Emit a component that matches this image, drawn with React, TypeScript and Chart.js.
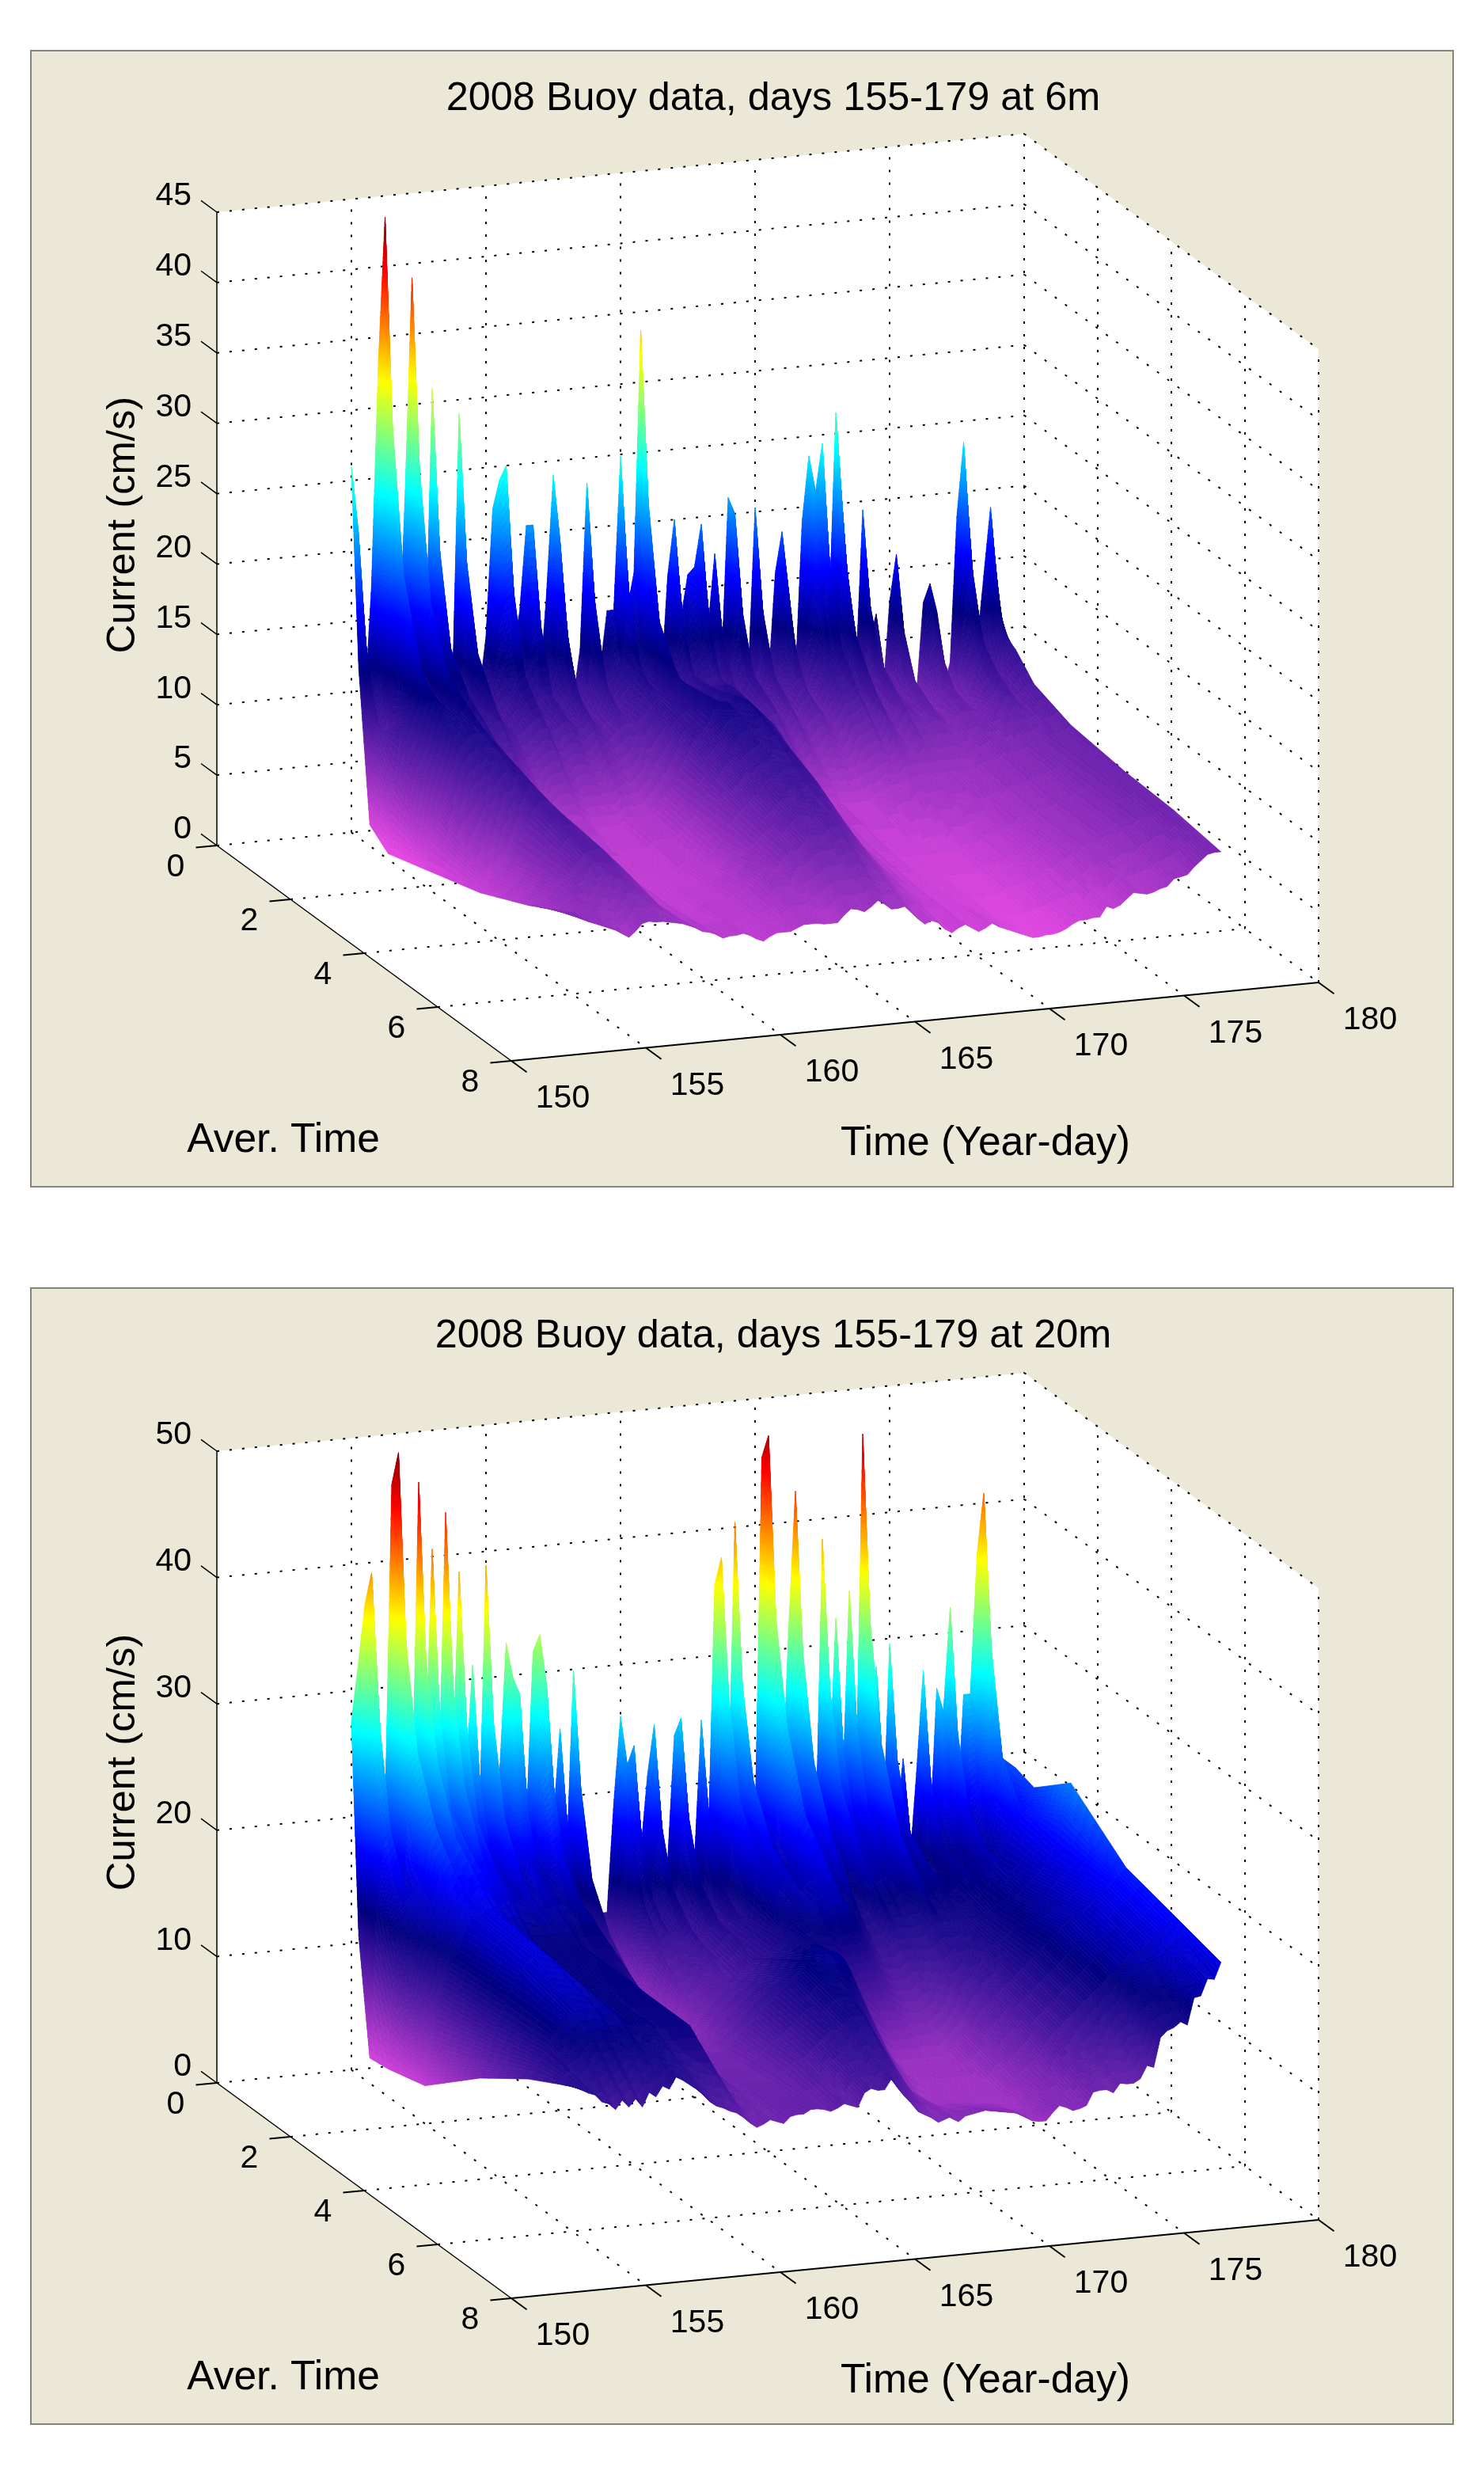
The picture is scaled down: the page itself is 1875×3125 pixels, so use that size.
import { useEffect, useRef } from 'react';
import { Chart, registerables } from 'chart.js';

Chart.register(...registerables);

const days = [
  155, 155.25, 155.5, 155.75, 156, 156.25, 156.5, 156.75, 157, 157.25, 157.5, 157.75,
  158, 158.25, 158.5, 158.75, 159, 159.25, 159.5, 159.75, 160, 160.25, 160.5, 160.75,
  161, 161.25, 161.5, 161.75, 162, 162.25, 162.5, 162.75, 163, 163.25, 163.5, 163.75,
  164, 164.25, 164.5, 164.75, 165, 165.25, 165.5, 165.75, 166, 166.25, 166.5, 166.75,
  167, 167.25, 167.5, 167.75, 168, 168.25, 168.5, 168.75, 169, 169.25, 169.5, 169.75,
  170, 170.25, 170.5, 170.75, 171, 171.25, 171.5, 171.75, 172, 172.25, 172.5, 172.75,
  173, 173.25, 173.5, 173.75, 174, 174.25, 174.5, 174.75, 175, 175.25, 175.5, 175.75,
  176, 176.25, 176.5, 176.75, 177, 177.25, 177.5, 177.75, 178, 178.25, 178.5, 178.75, 179,
];
const averTimes = [0, 0.2, 0.5, 1, 2, 3.5, 4.8, 6.08];

// 6 m, one list per averaging time, four values per day
const m6A0 = [
  26,21.5,9,17.5, 33,43.5,18,11, 24,39,17,11, 31,14,9,9, 29,14,8,9, 13,22,24,25,
  12,14.5,20.6,20.6, 9,15.6,24,19.3, 10,8,11.5,23.2, 12,10,14,14, 24.9,14,16.5,33.7, 16,9,8,16,
  20,13,16,16.5, 19.5,12,17.3,9, 21.2,20,10,8.5, 20.3,10,8,15.5, 18.4,14,8,19, 23.6,21,24.4,12,
  26.5,19.3,12,8, 19.4,10,11.9,6, 12.7,16,8,6.5, 6,12.4,13.7,11.7, 6,8,18.3,23.5, 15.2,9,13.9,18.7, 12,
];
const m6A02 = [
  12,14,8.5,11.5, 21,29,12.5,10, 15,26,12,10, 20,11,9,9, 19,10.5,8.5,9, 10,14.5,16,16.5,
  9.5,10.5,14,14, 9,11,16,13, 9,8,9,15.5, 9.5,9,10,10.5, 16,11,12,22, 11.5,8.5,8,11,
  13.5,10,11,11.5, 13,9.5,12,8.5, 14,13.5,8.5,8, 13.5,8.5,7.5,11, 12.5,10,8,13, 15.5,14,16,9.5,
  18,13,9,7, 13,8,8.5,6, 9,11,6.5,6, 6,9,9.5,8.5, 6,7,12.5,15.5, 10.5,7.5,10,12.5, 10,
];
const m6A05 = [
  1.5,8,8,8, 11.5,19,11,9.5, 10.5,17,10.5,9.5, 13.5,10,9,9, 13,9.5,8.5,8.5, 8.5,9.5,10.5,11,
  8.5,8.5,9.5,9.5, 8,8.5,10.5,9, 8,7.5,8,10, 8.5,8,8.5,9, 11,9.5,10,14, 9.5,8,7.5,8.5,
  10,8.5,9,9, 9.5,8.5,9,8, 10,9.5,8,7.5, 9.5,8,7,8.5, 9,8,7,9, 10.5,10,11,8.5,
  12,9.5,8,6.5, 9.5,7.5,7.5,6, 7.5,8,6,5.5, 5.5,7,7.5,7, 5.5,6.5,8.5,10.5, 8.5,7,8,9, 9.5,
];
const m6A1 = [
  0.4,6,9,10, 11.5,13,12,11, 11,12.5,11,10, 11,10,9.5,9.5, 10,9,8.5,8, 8,8.5,9,9,
  8,8,8.5,8.5, 8,8,8.5,8, 7.5,7,7.5,8, 8,8,8.5,9, 9.5,9.5,10,11, 10.5,9,8.5,9.5,
  10,9.5,10,10, 9.5,9,8.5,8, 8.5,8.5,7.5,7, 8,7,6.5,7, 7.5,7,6.5,7, 8,8,8.5,7.5,
  9,8,7,6.5, 8,7,7,6.5, 7,7,6.5,6, 6,6.5,6.5,6.5, 6.5,7,7.5,8.5, 8,7,7.5,8, 8,
];
const m6A2 = [
  1.2,3,5,6.5, 8,9.5,10,10.5, 10.5,10.5,10,9, 8.5,7.5,6.5,5.5, 5,4.5,4,3.5, 3.5,4,4,4,
  3.5,3,3,3, 3,3,3.5,3.5, 3.5,3.5,4,4.5, 5,5.5,6.5,7.5, 8.5,9,9.5,10.5, 11,11,10.5,10.5,
  11,10.5,10,9.5, 9,8,7,6, 5,4.5,4,3.5, 3.5,3.5,3,3, 3,3,3,3.5, 3.5,4,4,4,
  4.5,4.5,4.5,4.5, 4.5,4.5,4.5,4.5, 4.5,4.5,4.5,5, 5,5,5.5,5.5, 5.5,5.5,6,6, 6,6.5,6.5,6.5, 7,
];
const m6A35 = [
  2.4,2.5,3,3.5, 4,5,6,7, 8,8.5,8.5,8, 7.5,7,6,5, 4.5,4,3.5,3, 3,3,2.5,2.5,
  2.5,2.5,2.5,2.5, 2.5,2.5,3,3, 3,3,3.5,4, 4.5,5.5,6,6.5, 7,7.5,8,8.5, 8.5,9,9,9,
  9,8.5,8,7, 6,5,4.5,4, 3.5,3,3,2.5, 2.5,2.5,2,2, 2,2,2,2, 2,2,2,2,
  2.5,2.5,2.5,3, 3,3,3.5,3.5, 4,4,4,4.5, 4.5,4.5,5,5, 5,5.5,5.5,6, 6,6.5,6.5,6.5, 6.5,
];
const m6A48 = [
  4,4,4,4.5, 5,5.5,6,6.5, 7,7.5,7.5,7.5, 7,6.5,6,5.5, 4.5,4,3.5,3, 3,3,2.5,2.5,
  2.5,2.5,3,3, 3,3,3,3.5, 3.5,4,4.5,5, 5,5,5.5,6, 6,6.5,7,7, 7,7.5,7.5,7,
  6.5,6,5.5,5, 4.5,4,3.5,3, 3,2.5,2.5,2, 2,2,2,1.8, 1.8,1.8,1.5,1.5, 1.5,1.5,1.5,1.8,
  2,2,2.2,2.5, 2.5,3,3,3.5, 3.5,4,4,4.5, 4.5,4.5,5,5, 5,5.5,5.5,6, 6,6,6.5,6.5, 6.3,
];
const m6A6 = [
  5.9,5.5,5.2,5, 4.8,4.6,4.4,4.1, 3.8,4.2,4.7,4.8, 4.7,4.7,4.6,4.5, 4.4,4.2,4,3.7, 3.6,3.4,3.1,3.2,
  3.2,3.3,3.1,2.8, 2.6,2.9,3.1,3.1, 3.1,3.3,3.5,3.5, 3.5,3.4,3.4,3.4, 3.9,4.3,4.2,4, 4.3,4.7,4.4,4,
  4,4.1,3.6,3.1, 2.7,2.9,2.7,2.2, 1.9,2.2,2.4,2.1, 1.8,2,2.3,2, 1.8,1.6,1.4,1.2, 1,1,1.1,1.1,
  1.2,1.4,1.7,1.9, 1.9,2,2,2.7, 2.5,2.7,3.1,3.5, 3.4,3.3,3.4,3.6, 3.7,4.2,4.3,4.4, 4.9,5.3,5.7,5.8, 5.8,
];

// 20 m
const m20A0 = [
  27.5,31.9,36.7,39.2, 27.8,20,46,48.5, 22,20,46,24, 40.6,22,43.4,22, 38.6,22,31.1,18, 38.9,20,22,32.6,
  29.8,28.5,18,31.7, 33,29,18,25.4, 15,29.9,12,11, 11,10.5,10.5,19.1, 25.9,22,23.5,15, 21,25,15,14,
  24,25.3,15,14, 25,14,35.6,37.7, 18,40.4,20,16, 16,45.3,47,20, 18,31.6,42.4,18, 15,14,38.4,19,
  32,18,34.1,18, 46.4,20,27.9,14, 29.6,15,20.4,12, 19.2,27.2,14,25.7, 23.8,32,15,25, 25,36,40.8,22, 20,
];
const m20A02 = [
  11,22,26,28, 20,16,32,34, 17,15,32,18, 28,17,30,17, 27,17,22,15, 27,15,16,23,
  21,20,14.5,22, 23,21,14,18, 12,21,10,8.5, 8,7.5,7.5,13.5, 18,15.5,16.5,12, 15,17.5,12,11,
  17,18,12,11, 18,11,25,27, 14,28,15,13, 13,32,33,15, 14,22,30,14, 12,11,27,15,
  22,14,24,14, 32,15,19.5,11.5, 21,12,14.5,10.5, 14,19,11,18, 17,22.5,12,17.5, 18,25,29,17, 20,
];
const m20A05 = [
  2,14,19,20, 15,14,25,26, 15,14,25,15, 21,14,23,14, 20,14,17,13, 20,13,14,17,
  16,15.5,12.5,17, 17.5,16,12,13, 10,14.5,7.5,6.5, 6,6,5.5,9, 13,11.5,12.5,10.5, 11.5,13,10,9.5,
  13,13.5,10,10, 13.5,10,18,19.5, 12,21,12.5,11.5, 11.5,24,25,13, 12,17,22,12, 11,11,20,13,
  17,12,18,12, 23,13,15,11, 16,11,12,10.5, 12,14.5,10.5,14, 13,17,11,13, 15,18,21,15, 20,
];
const m20A1 = [
  2.2,12,14,15, 16,17,20,21, 19,19,20,18, 19,17,18,17, 17,16,15.5,15, 16,15,15,15.5,
  14.5,14.5,14,14.5, 14.5,13.5,13,12, 9,11,7,6, 5.5,5.5,5,7, 10,9.5,10,10, 10,11,10,10,
  11,11.5,10.5,11, 11.5,11.5,15,16, 15,17,15,14.5, 15,18,19,15, 14.5,15,17,14, 13.5,13,16,14.5,
  15,14,15,14, 17,14.5,14.5,13, 14.5,13.5,13.5,13, 13.5,14,13,14, 14,15,14,14.5, 15.5,17,18,18, 19.5,
];
const m20A2 = [
  3,6,9,11, 12.5,13.5,15,16, 16,16.5,16.5,16, 15.5,15,14.5,14, 13.5,13,13,13, 13,13,13,13,
  12.5,12.5,12.5,12.5, 12.3,11.5,10,9, 8,7.5,6.5,6, 5.5,5.5,5.5,6, 7,7.5,8,8.5, 8.5,9,9,9.5,
  10,10.5,10.5,11, 11.5,12,12.5,13, 13.5,14,14.5,14.5, 15,15,14.5,14, 13,12,11,10.5, 10.5,10.5,11,11,
  11,11,11,11.5, 12,12,12,12, 12,12,12,12.5, 12.5,13,13,13.5, 13.5,14,14.5,15, 15.5,16.5,17.5,19.5, 22,
];
const m20A35 = [
  6.8,8,10,11.5, 13,14,15,15.5, 16,16,16,15.5, 15,14.5,14,13.5, 13,13,13,13, 13,13,13,13,
  12.5,12,11,10, 9,8,7.5,7, 7,7,7,7, 7,7.5,8,8.5, 9,9.5,10,10.5, 11,11.5,12,12.5,
  13,13.5,13.5,14, 14,14,13.5,12.5, 11,9.5,8,7, 6,5.5,5,5, 5,5,5,5, 5,5,5.5,6,
  6.5,7,8,8.5, 9,9.5,10,10.5, 11,11.5,12,12.5, 13,13.5,14,14.5, 15,15,15.5,16, 16.5,17,17.5,18, 18.5,
];
const m20A48 = [
  9.5,10,11,12, 13,14,14,14.5, 14.5,14.5,14.5,14, 14,14,13.5,13, 13,13,13,12.5, 12.5,12.5,12.5,12.5,
  12.5,11.5,10,9, 8.5,8,7.5,7.5, 7.5,7.5,7.5,7.5, 7.5,8,8,8.5, 9,9,9.5,10, 10.5,11,11,11.5,
  12,12,12,11, 10,8.5,7.5,6.5, 6,5,5,4.5, 4.5,4.5,4.5,4.5, 4.5,4.5,4.5,4.5, 4.5,4.5,4.5,5,
  5.5,6,6.5,7, 7.5,8.5,9,9.5, 10,10.5,11,11.5, 12,12.5,13,13.5, 14,14.5,15,15, 15.5,16,16.5,17, 17.5,
];
const m20A6 = [
  11.6,11.3,11,10.8, 10.2,10,9.5,10.2, 9.6,10.2,9.5,10.6, 10.2,11,10.7,11.6, 11.3,10.9,10.5,10, 9.4,9,8.8,8.5,
  8.3,7.9,7.4,7, 7.2,7.5,7.3,7.1, 7.6,7.7,7.7,8, 8,7.9,7.7,7.9, 8.2,8,7.8,8.9, 9.2,9,9,9.8,
  9,8.3,7.7,7, 6.7,6.4,6,6.2, 6.4,5.9,6.3,6.4, 6.5,6.6,6.5,6.4, 6.3,6.2,6.1,5.8, 5.4,5.3,5.3,5.9,
  6.4,6.2,5.9,6, 6.2,7.2,7.3,7.3, 7,7.7,7.6,7.6, 7.9,8.9,8.7,11, 11.5,11.7,12.1,11.8, 13.9,14,15.3,15.2, 16.5,
];

const timeTicks = [150, 155, 160, 165, 170, 175, 180];
const averTicks = [0, 2, 4, 6, 8];
const currentTicks6m = [0, 5, 10, 15, 20, 25, 30, 35, 40, 45];
const currentTicks20m = [0, 10, 20, 30, 40, 50];

// fraction of the top current -> colour (magenta up through navy, then jet)
const colourStops: [number, number, number, number][] = [
  [0.02, 228, 72, 226],
  [0.27, 0, 0, 128],
  [0.36, 0, 0, 255],
  [0.55, 0, 255, 255],
  [0.73, 255, 255, 0],
  [0.91, 255, 0, 0],
  [1, 128, 0, 0],
];

const colourFor = (f: number) => {
  if (f <= colourStops[0][0]) {
    const s = colourStops[0];
    return `rgb(${s[1]},${s[2]},${s[3]})`;
  }
  for (let i = 1; i < colourStops.length; i++) {
    const a = colourStops[i - 1];
    const b = colourStops[i];
    if (f <= b[0]) {
      const k = (f - a[0]) / (b[0] - a[0]);
      return `rgb(${Math.round(a[1] + (b[1] - a[1]) * k)},${Math.round(a[2] + (b[2] - a[2]) * k)},${Math.round(a[3] + (b[3] - a[3]) * k)})`;
    }
  }
  return 'rgb(128,0,0)';
};

const PANEL_W = 1799;
const PANEL_H = 1437;
const FONT = '"Liberation Sans", Arial, sans-serif';

const SurfaceChart = ({ title, top, rows, zTicks, zMax, zLength }: any) => {
  const chartRef = useRef<HTMLCanvasElement>(null);

  useEffect(() => {
    const canvas = chartRef.current;
    if (!canvas) return;
    const zTop = zTicks[zTicks.length - 1];
    const zUnit = zLength / zTop;

    // view of the 3-d box, in the units of the two hidden linear scales
    const view = (t: number, a: number, z: number) => ({
      x: 236 + 34 * (t - 150) + 46.5 * a,
      y: 1005 - 3.3 * (t - 150) + 34 * a - z * zUnit,
    });

    const line = (pts: number[][], dashed: boolean, width = 2) => ({
      label: '',
      data: pts.map((p) => view(p[0], p[1], p[2])),
      showLine: true,
      pointRadius: 0,
      borderColor: '#000',
      borderWidth: width,
      borderDash: dashed ? [3, 13] : [],
      fill: false,
      tension: 0,
    });

    const datasets: any[] = [];
    timeTicks.forEach((t) => {
      if (t > 150) datasets.push(line([[t, 0, 0], [t, 8, 0]], true));
      if (t > 150) datasets.push(line([[t, 0, 0], [t, 0, zTop]], true));
      datasets.push(line([[t, 8, 0], [t, 8.42, 0]], false));
    });
    averTicks.forEach((a) => {
      if (a < 8) datasets.push(line([[150, a, 0], [180, a, 0]], true));
      datasets.push(line([[180, a, 0], [180, a, zTop]], true));
      datasets.push(line([[150, a, 0], [149.22, a, 0]], false));
    });
    zTicks.forEach((z: number) => {
      if (z > 0) datasets.push(line([[150, 0, z], [180, 0, z]], true));
      if (z > 0) datasets.push(line([[180, 0, z], [180, 8, z]], true));
      datasets.push(line([[150, 0, z], [150, -0.43, z]], false, 1.5));
    });
    datasets.push(line([[150, 0, 0], [150, 0, zTop]], false, 1.5));
    datasets.push(line([[150, 0, 0], [150, 8, 0]], false, 1.5));
    datasets.push(line([[150, 8, 0], [180, 8, 0]], false, 2));

    // one dataset per averaging time; the plugin below fills between them
    rows.forEach((row: number[], i: number) => {
      datasets.push({
        label: `Aver. ${averTimes[i]}`,
        data: row.map((z, c) => view(days[c], averTimes[i], z)),
        showLine: false,
        pointRadius: 0,
      });
    });

    const surfacePlugin = {
      id: 'surface',
      beforeDraw(chart: any) {
        const { ctx, scales } = chart;
        const px = (p: { x: number; y: number }) => [scales.x.getPixelForValue(p.x), scales.y.getPixelForValue(p.y)];
        ctx.save();
        ctx.fillStyle = '#ebe8d8';
        ctx.fillRect(0, 0, PANEL_W, PANEL_H);
        ctx.strokeStyle = '#85857f';
        ctx.lineWidth = 2;
        ctx.strokeRect(1, 1, PANEL_W - 2, PANEL_H - 2);
        ctx.fillStyle = '#fff';
        ctx.beginPath();
        [
          [150, 0, 0], [150, 8, 0], [180, 8, 0], [180, 8, zTop], [180, 0, zTop], [150, 0, zTop],
        ].forEach((c, i) => {
          const [x, y] = px(view(c[0], c[1], c[2]));
          if (i === 0) ctx.moveTo(x, y);
          else ctx.lineTo(x, y);
        });
        ctx.closePath();
        ctx.fill();
        ctx.restore();
      },
      afterDatasetsDraw(chart: any) {
        const { ctx, scales } = chart;
        const px = (t: number, a: number, z: number) => {
          const p = view(t, a, z);
          return [scales.x.getPixelForValue(p.x), scales.y.getPixelForValue(p.y)];
        };
        ctx.save();
        ctx.lineWidth = 0.7;
        ctx.lineJoin = 'round';
        // back to front: small averaging time first, late days first
        for (let r = 0; r < rows.length - 1; r++) {
          for (let c = days.length - 2; c >= 0; c--) {
            const z00 = rows[r][c];
            const z10 = rows[r][c + 1];
            const z01 = rows[r + 1][c];
            const z11 = rows[r + 1][c + 1];
            const spread = Math.max(z00, z10, z01, z11) - Math.min(z00, z10, z01, z11);
            const steps = Math.min(30, Math.max(2, Math.ceil(spread / 0.6)));
            const zAt = (u: number, v: number) =>
              z00 * (1 - u) * (1 - v) + z10 * u * (1 - v) + z01 * (1 - u) * v + z11 * u * v;
            const tAt = (u: number) => days[c] + (days[c + 1] - days[c]) * u;
            const aAt = (v: number) => averTimes[r] + (averTimes[r + 1] - averTimes[r]) * v;
            for (let j = 0; j < steps; j++) {
              for (let i = steps - 1; i >= 0; i--) {
                const u0 = i / steps;
                const u1 = (i + 1) / steps;
                const v0 = j / steps;
                const v1 = (j + 1) / steps;
                const a = px(tAt(u0), aAt(v0), zAt(u0, v0));
                const b = px(tAt(u1), aAt(v0), zAt(u1, v0));
                const d = px(tAt(u1), aAt(v1), zAt(u1, v1));
                const e = px(tAt(u0), aAt(v1), zAt(u0, v1));
                const col = colourFor(zAt((u0 + u1) / 2, (v0 + v1) / 2) / zMax);
                ctx.fillStyle = col;
                ctx.strokeStyle = col;
                ctx.beginPath();
                ctx.moveTo(a[0], a[1]);
                ctx.lineTo(b[0], b[1]);
                ctx.lineTo(d[0], d[1]);
                ctx.lineTo(e[0], e[1]);
                ctx.closePath();
                ctx.fill();
                ctx.stroke();
              }
            }
          }
        }
        ctx.restore();

        // axis texts
        ctx.save();
        ctx.fillStyle = '#000';
        ctx.textBaseline = 'middle';
        ctx.font = `41px ${FONT}`;
        ctx.textAlign = 'right';
        zTicks.forEach((z: number) => {
          const [x, y] = px(150, 0, z);
          ctx.fillText(String(z), x - 32, y - 20);
        });
        ctx.textAlign = 'center';
        averTicks.forEach((a) => {
          const [x, y] = px(150, a, 0);
          ctx.fillText(String(a), x - 52, y + 28);
        });
        timeTicks.forEach((t) => {
          const [x, y] = px(t, 8, 0);
          ctx.fillText(String(t), x + 65, y + 48);
        });
        ctx.font = `50.4px ${FONT}`;
        ctx.fillText(title, 939, 62.5);
        ctx.font = `51.6px ${FONT}`;
        ctx.fillText('Aver. Time', 320, 1377.5);
        ctx.fillText('Time (Year-day)', 1207, 1381.5);
        ctx.font = `50.8px ${FONT}`;
        ctx.translate(118, 600);
        ctx.rotate(-Math.PI / 2);
        ctx.fillText('Current (cm/s)', 0, 0);
        ctx.restore();
      },
    };

    const chart = new Chart(canvas, {
      type: 'scatter',
      data: { datasets },
      options: {
        animation: false,
        responsive: false,
        devicePixelRatio: 1,
        layout: { padding: 0 },
        plugins: { legend: { display: false }, tooltip: { enabled: false } },
        scales: {
          x: { type: 'linear', min: 0, max: PANEL_W, display: false },
          y: { type: 'linear', min: 0, max: PANEL_H, reverse: true, display: false },
        },
      } as any,
      plugins: [surfacePlugin],
    });

    return () => chart.destroy();
  }, [title, rows, zTicks, zMax, zLength]);

  return (
    <canvas
      ref={chartRef}
      width={PANEL_W}
      height={PANEL_H}
      style={{ position: 'absolute', left: 38, top, width: PANEL_W, height: PANEL_H }}
    />
  );
};

const rows6m = [m6A0, m6A02, m6A05, m6A1, m6A2, m6A35, m6A48, m6A6];
const rows20m = [m20A0, m20A02, m20A05, m20A1, m20A2, m20A35, m20A48, m20A6];

export default function App() {
  return (
    <div style={{ position: 'absolute', left: 0, top: 0, width: 1875, height: 3125, background: '#fff', overflow: 'hidden' }}>
      <SurfaceChart title="2008 Buoy data, days 155-179 at 6m" top={63} rows={rows6m} zTicks={currentTicks6m} zMax={43.5} zLength={800} />
      <SurfaceChart title="2008 Buoy data, days 155-179 at 20m" top={1626} rows={rows20m} zTicks={currentTicks20m} zMax={48.5} zLength={798} />
    </div>
  );
}
